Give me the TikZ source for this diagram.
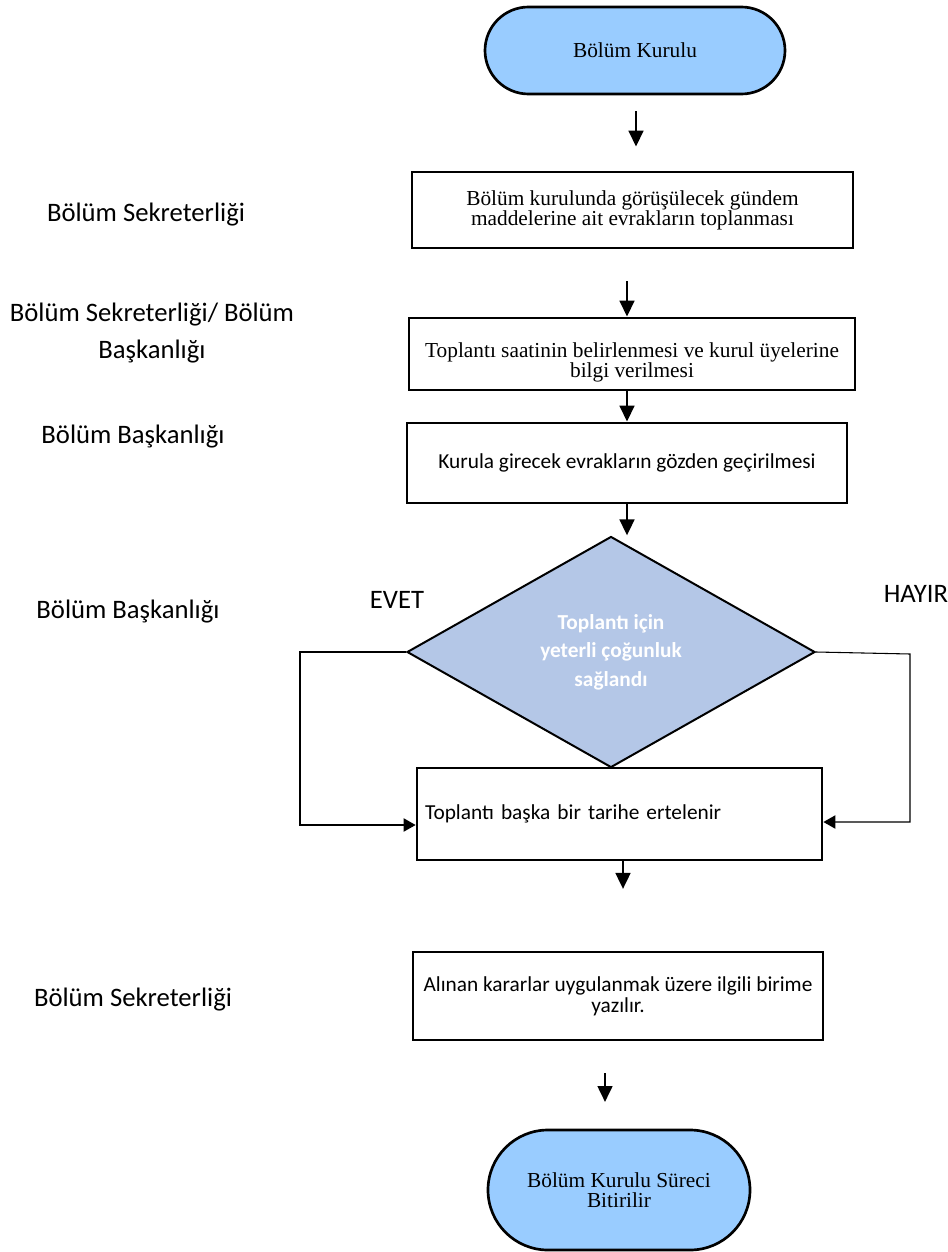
\documentclass[tikz,border=0pt]{standalone}
\usepackage{fontspec}
\setmainfont{Liberation Serif}
\newfontfamily\calfnt{Carlito}
\usetikzlibrary{shapes.geometric,shapes.misc,arrows.meta,calc}
\definecolor{termblue}{HTML}{99CCFF}
\definecolor{diablue}{HTML}{B4C7E7}
\tikzset{
  px/.style={x=0.75pt,y=-0.75pt},
  procbox/.style={draw=black, line width=2.1pt, fill=white, inner sep=0pt, align=center,
    font=\fontsize{16}{15}\selectfont},
  calbox/.style={draw=black, line width=2.1pt, fill=white, inner sep=0pt, align=center,
    font=\calfnt\fontsize{16}{16}\selectfont},
  term/.style={draw=black, line width=2pt, fill=termblue, rounded rectangle, inner sep=0pt,
    align=center, font=\fontsize{16}{15}\selectfont},
  lbl/.style={font=\calfnt\fontsize{20}{28}\selectfont, align=center, inner sep=0pt},
  arr/.style={line width=2pt, -{Triangle[length=12pt,width=11pt]}},
  thinarr/.style={line width=0.8pt, -{Triangle[length=9pt,width=10pt]}},
}
\begin{document}
\begin{tikzpicture}[px]
\useasboundingbox (0,0) rectangle (948,1252);
% coordinates for arrow columns
\coordinate (xa) at (627,0);
\coordinate (xb) at (623,0);
\coordinate (xc) at (605,0);
\coordinate (xd) at (636,0);
\coordinate (yl) at (0,825);
\coordinate (yr) at (0,822);

% terminals
\node[term, minimum width=225pt, minimum height=65.25pt] (t1) at (635,50.5) {Bölüm Kurulu};
\node[term, minimum width=196.5pt, minimum height=90pt] (t2) at (619,1190) {Bölüm Kurulu Süreci\\Bitirilir};

% process boxes
\node[procbox, minimum width=330.75pt, minimum height=57pt] (b1) at (632.5,210)
  {Bölüm kurulunda görüşülecek gündem\\maddelerine ait evrakların toplanması};
\node[procbox, minimum width=334.5pt, minimum height=54pt] (b2) at (632,354) {};
\node[align=center, inner sep=0pt, font=\fontsize{16}{15}\selectfont] (b2t) at (632,362)
  {Toplantı saatinin belirlenmesi ve kurul üyelerine\\bilgi verilmesi};
\node[calbox, minimum width=330pt, minimum height=60pt] (b3) at (627,463)
  {Kurula girecek evrakların gözden geçirilmesi};
\node[calbox, inner xsep=6pt, text width=291.75pt, align=left, minimum height=69pt] (b4) at (619.5,814)
  {Toplantı başka bir tarihe ertelenir};
\node[calbox, line width=1.6pt, minimum width=307.5pt, minimum height=66pt] (b5) at (618,996)
  {Alınan kararlar uygulanmak üzere ilgili birime\\yazılır.};

% arrows between main steps
\draw[arr, shorten <=12pt, shorten >=18pt] (t1.south -| xd) -- (b1.north -| xd);
\draw[arr, shorten <=24pt] (b1.south -| xa) -- (b2.north -| xa);
\draw[arr] (b2.south -| xa) -- (b3.north -| xa);
\draw[arr] (b3.south -| xa) -- ($(b3.south -| xa)+(0,31)$) coordinate (a4end);

% decision
\node[diamond, draw=black, line width=1.5pt, fill=diablue, inner sep=0pt,
  minimum width=306pt, minimum height=173.25pt, align=center,
  font=\calfnt\bfseries\fontsize{16}{21.5}\selectfont, text=white] (dia) at (611,652)
  {Toplantı için\\yeterli çoğunluk\\sağlandı};

% loops
\draw[thinarr] (dia.west) -- ++(-106,0) |- (b4.west |- yl);
\draw[thinarr] (dia.east) -- ++(94,2) |- (b4.east |- yr);

\draw[arr, shorten >=46.5pt] (b4.south -| xb) -- (b5.north -| xb);
\draw[arr, shorten <=24pt, shorten >=20pt] (b5.south -| xc) -- (t2.north -| xc);

% side labels
\node[lbl] (l1) at (146,215) {Bölüm Sekreterliği};
\node[lbl] (l2) at (152,333) {Bölüm Sekreterliği/ Bölüm\\Başkanlığı};
\node[lbl] (l3) at (133,437) {Bölüm Başkanlığı};
\node[lbl] (l4) at (128,612) {Bölüm Başkanlığı};
\node[lbl] (evet) at (397,600) {EVET};
\node[lbl] (hayir) at (916,594) {HAYIR};
\node[lbl] (l5) at (133,1000) {Bölüm Sekreterliği};
\end{tikzpicture}
\end{document}
